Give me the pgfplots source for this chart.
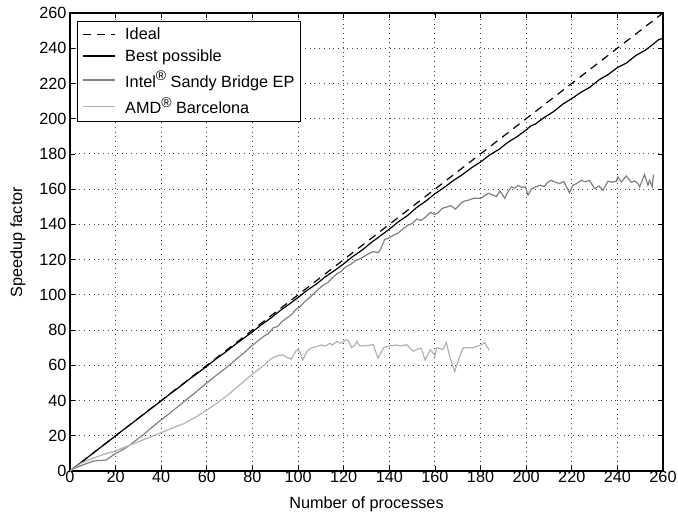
\documentclass[border=0pt]{standalone}
\usepackage{fontspec}
\setmainfont{Liberation Sans}
\usepackage{pgfplots}
\pgfplotsset{compat=1.18}
\definecolor{intelgray}{RGB}{128,128,128}
\definecolor{amdgray}{RGB}{178,178,178}
\newcommand{\chartfont}{\fontsize{16.3}{19}\selectfont}
\newcommand{\reg}{\raisebox{0.4em}{\fontsize{14}{14}\selectfont ®}}

\begin{document}
\begin{tikzpicture}
\path[use as bounding box] (-70bp,-45bp) rectangle (608bp,471bp);
\begin{axis}[scale only axis, width=593bp, height=458bp,
    xmin=0, xmax=260, ymin=0, ymax=260,
    xtick={0,20,...,260}, ytick={0,20,...,260},
    tick align=inside, major tick length=5bp,
    axis line style={line width=1.1bp}, tick style={line width=0.8bp, black},
    grid=major, grid style={line width=0.9bp, black!75, dash pattern=on 0.9bp off 3.8bp},
    /pgf/number format/assume math mode=true,
    tick label style={font=\chartfont},
    xticklabel style={yshift=3bp},
    label style={font=\chartfont},
    xlabel={Number of processes}, ylabel={Speedup factor},
    xlabel style={at={(axis description cs:0.5,-0.0725)}, anchor=center},
    ylabel style={at={(axis description cs:-0.0877,0.5)}, anchor=center},
    legend style={font=\chartfont, at={(0.012,0.983)}, anchor=north west,
        draw=black, line width=0.8bp, fill=white, row sep=5.5bp,
        inner xsep=5bp, inner ysep=5bp,
        nodes={inner sep=1.5bp}},
    legend cell align=left,
    legend image code/.code={\draw[#1] (-3bp,0bp) -- (29bp,0bp);},
]
\addplot[black, line width=1.2bp, dash pattern=on 8bp off 6bp] coordinates {(0,0)(260,260)};
\addlegendentry{\hspace{8bp}Ideal}

\addplot[black, line width=1.2bp] coordinates {
(0,0)(4,4.0)(8,8.0)(12,12.0)(16,16.0)(20,20.0)(24,24.0)(28,27.9)(32,31.9)
(36,35.9)(40,39.8)(44,43.9)(48,47.7)(52,51.8)(56,55.6)(60,59.5)(64,63.6)
(68,67.3)(72,71.4)(76,75.2)(80,79.0)(84,83.1)(88,86.8)(92,90.9)(96,94.6)
(100,98.5)(104,102.6)(108,106.1)(112,110.3)(116,113.8)(120,117.6)(124,121.8)
(128,125.3)(132,129.6)(136,133.4)(140,137.3)(144,141.5)(148,145.0)(152,149.6)
(156,153.2)(160,157.4)(164,160.9)(168,164.8)(172,168.2)(176,172.1)(180,175.4)
(184,179.4)(188,182.5)(192,186.6)(196,189.8)(200,193.6)(202,195.9)(204,196.9)
(208,200.8)(212,204.0)(216,208.2)(220,211.4)(224,215.0)(228,217.9)(232,222.1)
(236,225.1)(240,229.0)(244,231.6)(248,235.8)(252,238.7)(256,242.6)(258,244.8)(260,245.7)
};
\addlegendentry{\hspace{8bp}Best possible}

\addplot[intelgray, line width=1.2bp] coordinates {
(0,0)(2,1.5)(4,2.6)(6,3.6)(8,4.6)(10,5.5)(12,5.9)(14,6.0)(16,6.3)(18,8.2)
(20,10.0)(22,11.3)(24,12.8)(26,14.5)(28,16.5)(30,18.5)(32,20.4)(34,22.7)
(36,24.8)(38,27.0)(40,29.1)(43,32.0)(46,35.2)(49,38.3)(52,41.5)(55,44.6)
(58,47.9)(61,51.0)(64,54.2)(67,57.1)(70,60.2)(73,63.6)(76,66.7)(79,70.3)
(82,73.4)(85,76.5)(87,78.0)(89,81.2)(91,82.0)(93,84.9)(95,86.8)(97,88.6)
(99,91.6)(101,93.4)(103,96.3)(105,98.4)(107,100.9)(109,103.2)(111,105.6)
(113,106.9)(115,109.7)(117,111.9)(119,113.4)(121,116.0)(123,117.2)(125,119.3)
(127,120.4)(129,121.8)(131,123.4)(133,124.5)(135,124.0)(136,125.4)(138,131.5)
(140,132.4)(142,134.0)(144,135.2)(146,137.5)(148,139.4)(150,140.5)(152,143.0)
(154,142.2)(156,144.3)(158,146.8)(160,145.5)(162,147.3)(163,149.0)(165,149.8)
(167,150.6)(169,148.7)(171,151.5)(172.4,153.0)(175,153.9)(177,154.8)(180,154.8)
(182,156.4)(183.4,157.7)(185,156.9)(187,155.8)(188.5,159.0)(190.6,154.8)
(192,158.5)(193.5,161.3)(195,160.6)(196.5,162.2)(198,161.0)(199.7,161.3)
(200.8,156.6)(202.3,160.0)(204,161.2)(206,162.2)(208,161.5)(209.5,164.0)
(211,165.0)(213,163.8)(214.7,163.2)(216.5,164.3)(218,160.5)(219,158.0)
(220.5,162.2)(222,163.1)(224.2,165.0)(226,164.2)(227.8,165.0)(229,162.5)
(230,160.3)(232,161.8)(233.7,159.3)(235.9,164.5)(237.5,163.9)(239.5,164.5)
(240.2,167.0)(241.7,164.0)(243.9,167.5)(246.1,163.8)(247.5,164.6)(249,163.2)
(249.8,161.3)(251.9,168.3)(253.4,162.2)(254.1,165.0)(255.3,161.3)(255.8,168.3)
};
\addlegendentry{\hspace{8bp}Intel\reg{} Sandy Bridge EP}

\addplot[amdgray, line width=1.2bp] coordinates {
(0,0)(5,4.5)(10,7.2)(15,9.5)(20,11.5)(25,14.0)(30,16.6)(35,19.2)(40,21.8)
(45,24.4)(50,27.0)(55,30.5)(60,34.6)(65,39.0)(70,44.0)(75,49.5)(80,55.0)
(85,60.0)(88,63.5)(90,65.0)(93,66.0)(95,64.5)(97,63.5)(99,68.0)(100,69.0)
(101,67.0)(102,63.0)(104,68.0)(106,70.0)(108,70.5)(110,71.5)(112,71.0)
(114,72.5)(115,71.5)(117,73.5)(119,72.5)(121,74.5)(122,74.0)(123.5,70.0)
(125,71.5)(125.7,73.7)(127,71.0)(130,71.2)(133,71.7)(135,64.0)(137.5,70.0)
(140,71.0)(143,71.5)(145,71.0)(147.6,71.7)(150.5,68.0)(152,69.0)(154,69.7)
(155.7,63.0)(158,69.0)(160,65.5)(160.7,70.0)(163.6,69.0)(165,73.0)(166.5,65.0)
(168.7,56.5)(170.5,64.0)(172.4,70.0)(176.8,70.0)(180,71.5)(181.9,72.8)(183.8,68.5)
};
\addlegendentry{\hspace{8bp}AMD\reg{} Barcelona}
\end{axis}
\end{tikzpicture}
\end{document}
